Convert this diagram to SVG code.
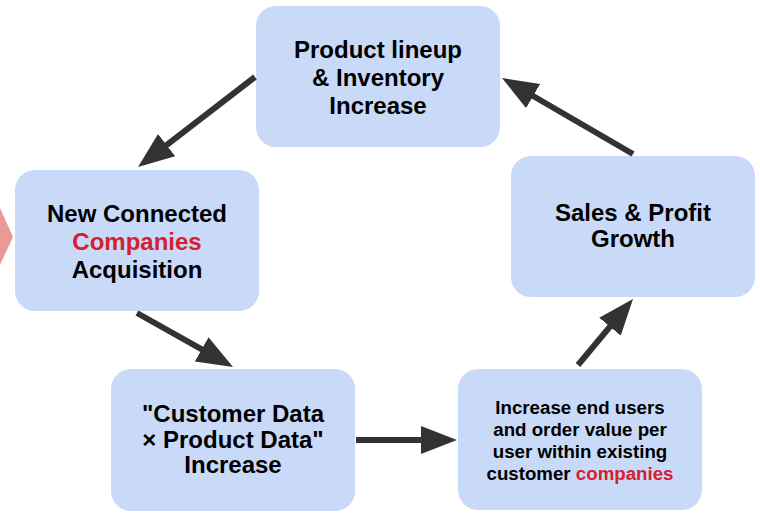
<svg xmlns="http://www.w3.org/2000/svg" width="760" height="514" viewBox="0 0 760 514">
  <style>
    .box { fill: #c9daf8; }
    .label { font-family: "Liberation Sans", Arial, sans-serif; font-weight: bold; font-size: 24px; fill: #000; text-anchor: middle; }
    .small { font-size: 18.7px; }
    .red { fill: #d5202e; }
    .link { stroke: #333333; stroke-width: 6; fill: none; marker-end: url(#head); }
  </style>
  <defs>
    <marker id="head" viewBox="0 0 36 28" refX="16" refY="14" markerWidth="36" markerHeight="28" markerUnits="userSpaceOnUse" orient="auto">
      <path d="M0,0 L36,14 L0,28 z" fill="#333333"/>
    </marker>
  </defs>

  <!-- incoming chevron, cut by the left edge -->
  <polygon points="0,208 13,237 0,265" fill="#ea9999"/>

  <g id="product-lineup">
    <rect class="box" x="256" y="6" width="244" height="141" rx="20"/>
    <text class="label" x="378" y="58">Product lineup</text>
    <text class="label" x="378" y="86">&amp; Inventory</text>
    <text class="label" x="378" y="114">Increase</text>
  </g>

  <g id="new-companies">
    <rect class="box" x="15" y="170" width="244" height="141" rx="20"/>
    <text class="label" x="137" y="222">New Connected</text>
    <text class="label red" x="137" y="250">Companies</text>
    <text class="label" x="137" y="278">Acquisition</text>
  </g>

  <g id="data-increase">
    <rect class="box" x="111" y="369" width="244" height="142" rx="20"/>
    <text class="label" x="233" y="422">"Customer Data</text>
    <text class="label" x="233" y="448">× Product Data"</text>
    <text class="label" x="233" y="473">Increase</text>
  </g>

  <g id="users-increase">
    <rect class="box" x="458" y="369" width="244" height="141" rx="20"/>
    <text class="label small" x="580" y="414">Increase end users</text>
    <text class="label small" x="580" y="436">and order value per</text>
    <text class="label small" x="580" y="458">user within existing</text>
    <text class="label small" x="580" y="480">customer <tspan class="red">companies</tspan></text>
  </g>

  <g id="sales-growth">
    <rect class="box" x="511" y="156" width="244" height="141" rx="20"/>
    <text class="label" x="633" y="221">Sales &amp; Profit</text>
    <text class="label" x="633" y="247">Growth</text>
  </g>

  <g id="connectors">
    <line class="link" x1="255" y1="77" x2="153.9" y2="154.8"/>
    <line class="link" x1="137" y1="313" x2="215.6" y2="357.2"/>
    <line class="link" x1="356" y1="440" x2="437" y2="440"/>
    <line class="link" x1="578" y1="365" x2="620.2" y2="314.4"/>
    <line class="link" x1="633" y1="154" x2="519.3" y2="88"/>
  </g>
</svg>
